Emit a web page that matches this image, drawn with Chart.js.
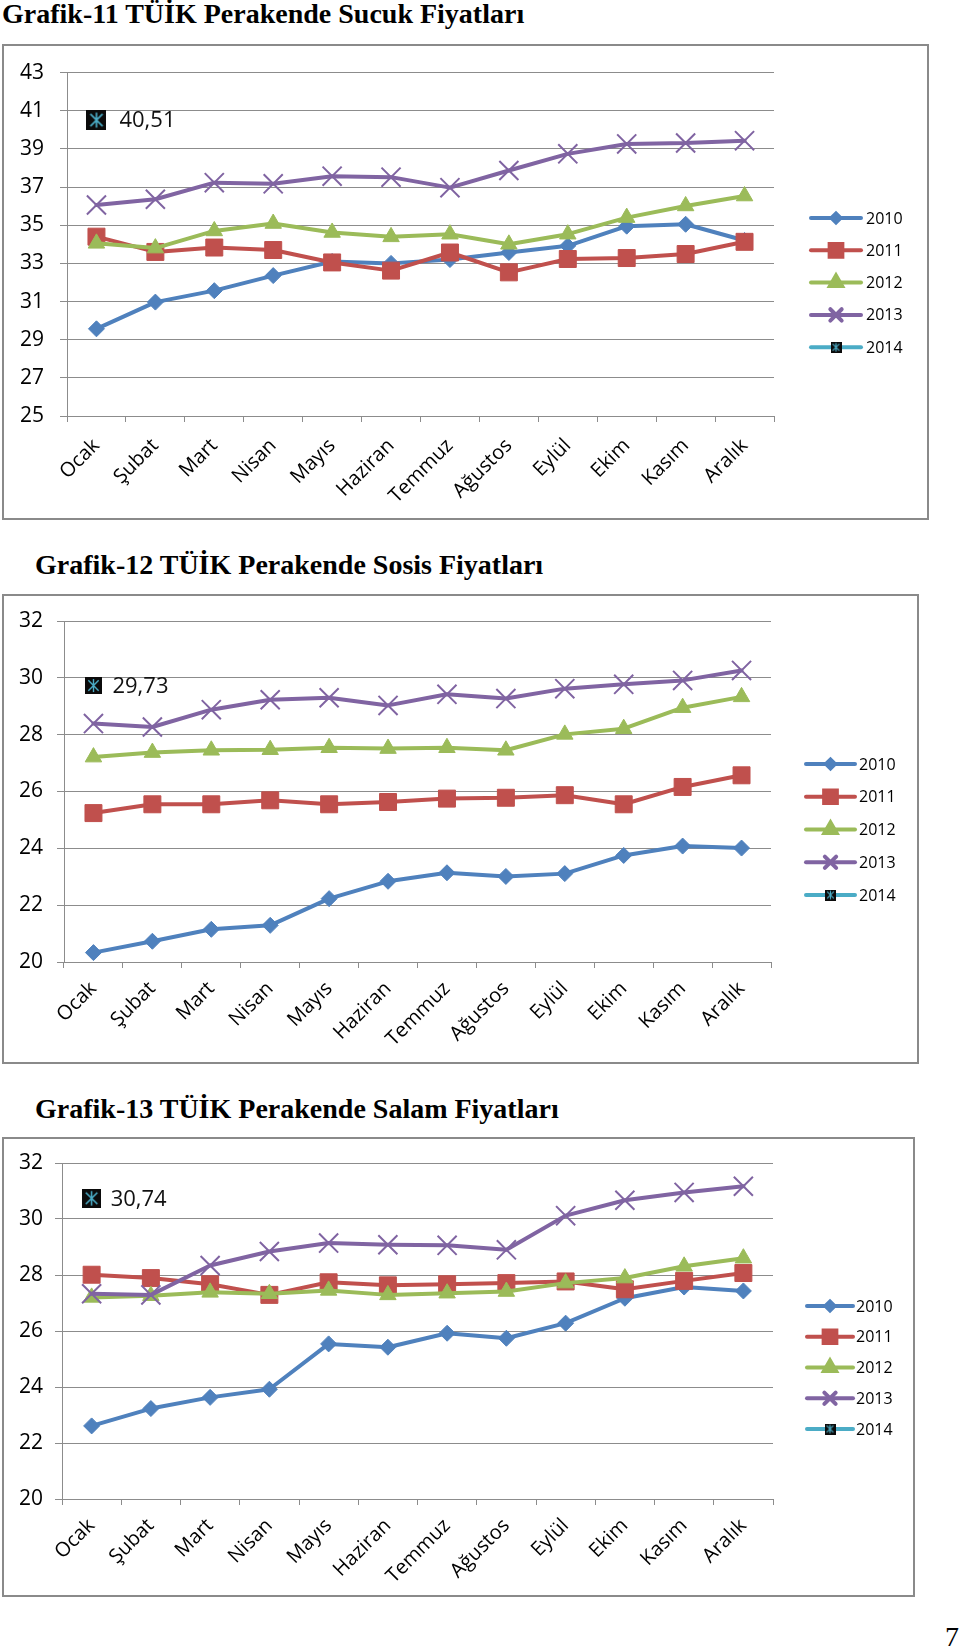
<!DOCTYPE html>
<html><head><meta charset="utf-8">
<script src="https://cdn.jsdelivr.net/npm/chart.js@4/dist/chart.umd.min.js"></script>
<style>
body{margin:0;background:#fff;width:960px;height:1651px;position:relative;overflow:hidden;}
.title{position:absolute;font-family:"Liberation Serif","Times New Roman",serif;font-weight:bold;font-size:28px;line-height:32px;color:#000;white-space:nowrap;}
.box{position:absolute;border:2px solid #8a8a8a;box-sizing:border-box;pointer-events:none;}
canvas.c{position:absolute;left:0;}
.pg{position:absolute;font-family:"Liberation Serif","Times New Roman",serif;font-size:28px;line-height:32px;color:#000;}
</style></head>
<body>
<div class="title" style="left:2px;top:-2px">Grafik-11 TÜİK Perakende Sucuk Fiyatları</div>
<canvas id="c1" class="c" style="top:44px" width="960" height="476"></canvas>
<div class="box" style="left:2px;top:44px;width:927px;height:476px"></div>

<div class="title" style="left:35px;top:549px">Grafik-12 TÜİK Perakende Sosis Fiyatları</div>
<canvas id="c2" class="c" style="top:594px" width="960" height="470"></canvas>
<div class="box" style="left:2px;top:594px;width:917px;height:470px"></div>

<div class="title" style="left:35px;top:1093px">Grafik-13 TÜİK Perakende Salam Fiyatları</div>
<canvas id="c3" class="c" style="top:1137px" width="960" height="460"></canvas>
<div class="box" style="left:2px;top:1137px;width:913px;height:460px"></div>

<div class="pg" style="left:945px;top:1621px">7</div>

<script>
// ---- data ----
const months = ['Ocak','Şubat','Mart','Nisan','Mayıs','Haziran','Temmuz','Ağustos','Eylül','Ekim','Kasım','Aralık'];
const years = ['2010','2011','2012','2013','2014'];

const sucuk2010 = [29.57, 30.97, 31.57, 32.36, 33.10, 33.00, 33.20, 33.57, 33.92, 34.95, 35.05, 34.20];
const sucuk2011 = [34.40, 33.60, 33.83, 33.70, 33.05, 32.62, 33.57, 32.53, 33.23, 33.28, 33.49, 34.13];
const sucuk2012 = [34.05, 33.80, 34.70, 35.09, 34.62, 34.39, 34.53, 34.00, 34.53, 35.40, 36.01, 36.53];
const sucuk2013 = [36.06, 36.36, 37.23, 37.17, 37.57, 37.52, 36.97, 37.87, 38.74, 39.26, 39.31, 39.43];
const sucuk2014 = [40.51];
const sucukTicks = [25, 43, 2];

const sosis2010 = [20.33, 20.73, 21.15, 21.29, 22.23, 22.84, 23.14, 23.01, 23.11, 23.75, 24.08, 24.01];
const sosis2011 = [25.24, 25.55, 25.55, 25.69, 25.55, 25.63, 25.75, 25.78, 25.87, 25.55, 26.16, 26.57];
const sosis2012 = [27.21, 27.37, 27.45, 27.47, 27.54, 27.51, 27.54, 27.45, 28.01, 28.21, 28.95, 29.33];
const sosis2013 = [28.39, 28.27, 28.88, 29.23, 29.30, 29.03, 29.42, 29.27, 29.62, 29.77, 29.91, 30.26];
const sosis2014 = [29.73];
const sosisTicks = [20, 32, 2];

const salam2010 = [22.61, 23.23, 23.63, 23.92, 25.54, 25.42, 25.92, 25.74, 26.28, 27.17, 27.57, 27.43];
const salam2011 = [28.01, 27.89, 27.67, 27.29, 27.74, 27.63, 27.67, 27.71, 27.77, 27.49, 27.79, 28.07];
const salam2012 = [27.20, 27.26, 27.38, 27.33, 27.45, 27.29, 27.35, 27.41, 27.71, 27.89, 28.31, 28.60];
const salam2013 = [27.33, 27.29, 28.34, 28.84, 29.14, 29.08, 29.06, 28.90, 30.12, 30.67, 30.95, 31.17];
const salam2014 = [30.74];
const salamTicks = [20, 32, 2];

// ---- styles ----
const COLORS = ['#4F81BD','#C0504D','#9BBB59','#8064A2','#4BACC6'];
const GRID = '#8c8c8c';
const FONT = "'Open Sans', 'DejaVu Sans', sans-serif";

function starBox(size){
  const c = document.createElement('canvas'); c.width = c.height = size;
  const g = c.getContext('2d');
  g.fillStyle = '#0b0b0b'; g.fillRect(0,0,size,size);
  g.strokeStyle = '#4BACC6'; g.lineWidth = Math.max(1.2, size/12);
  const m = size/2, r = size*0.38, d = r*0.8;
  g.beginPath();
  g.moveTo(m, m-r); g.lineTo(m, m+r);
  g.moveTo(m-d, m-d); g.lineTo(m+d, m+d);
  g.moveTo(m+d, m-d); g.lineTo(m-d, m+d);
  g.stroke();
  return c;
}

function build(id, g){
  const canvas = document.getElementById(id);
  const H = canvas.height;
  const styles = ['rectRot','rect','triangle','crossRot', starBox(g.boxSize)];
  const radii = [8, 12, 9.5, 13.5, 10];
  const pbw = [1, 1, 1, 2, 0];
  const datasets = g.series.map((vals,i)=>({
    label: years[i], data: vals,
    borderColor: COLORS[i], backgroundColor: COLORS[i],
    pointBackgroundColor: COLORS[i], pointBorderColor: COLORS[i],
    borderWidth: 4, borderCapStyle:'round', borderJoinStyle:'round',
    pointStyle: styles[i], pointRadius: radii[i], pointBorderWidth: pbw[i],
    tension: 0, fill:false, order: 4 - i
  }));
  const legendPlugin = {
    id:'xlLegend',
    afterDraw(chart){
      const ctx = chart.ctx;
      ctx.save();
      years.forEach((y,i)=>{
        const yy = g.legY - g.top + i*g.legDy;
        ctx.strokeStyle = COLORS[i]; ctx.lineWidth = 4; ctx.lineCap='round';
        ctx.beginPath(); ctx.moveTo(g.legX1, yy); ctx.lineTo(g.legX2, yy); ctx.stroke();
        const cx = (g.legX1 + g.legX2)/2;
        if (i === 4){
          const img = starBox(11);
          ctx.drawImage(img, cx-5.5, yy-5.5);
        } else {
          const lr = [4.5, 9, 7, 8][i];
          ctx.fillStyle = COLORS[i]; ctx.strokeStyle = COLORS[i];
          Chart.helpers.drawPoint(ctx, {pointStyle: ['rectRot','rect','triangle','crossRot'][i], radius: lr, rotation:0, borderWidth: 1}, cx, yy);
        }
        ctx.fillStyle = '#000'; ctx.font = '16px ' + FONT;
        ctx.textBaseline = 'middle'; ctx.textAlign = 'left';
        ctx.fillText(y, g.legTx, yy + 1);
      });
      ctx.restore();
    }
  };
  const labelPlugin = {
    id:'xlLabel',
    afterDatasetsDraw(chart){
      const meta = chart.getDatasetMeta(4);
      const pt = meta.data[0];
      if (!pt) return;
      const ctx = chart.ctx;
      ctx.save();
      ctx.fillStyle = '#111'; ctx.font = '22px ' + FONT;
      ctx.textBaseline = 'middle'; ctx.textAlign = 'left';
      ctx.fillText(String(g.series[4][0]).replace('.', ','), pt.x + g.lblDx, pt.y + 1);
      ctx.restore();
    }
  };
  new Chart(canvas.getContext('2d'), {
    type:'line',
    data:{ labels: months, datasets },
    options:{
      responsive:false, animation:false, events:[],
      layout:{ padding:{ left:0, top: g.plotTop - g.top, right: 960 - g.plotRight, bottom:0 } },
      plugins:{ legend:{display:false}, tooltip:{enabled:false} },
      scales:{
        x:{
          offset:true,
          grid:{ offset:true, drawOnChartArea:false, drawTicks:true, tickLength:6, color:GRID },
          border:{ color:GRID, width:1 },
          ticks:{ autoSkip:false, maxRotation:45, minRotation:45, color:'#000', padding: g.xpad,
                  font:{ family:FONT, size:20 } },
          afterFit(s){ s.height = H - (g.plotBottom - g.top); }
        },
        y:{
          min: g.ticks[0], max: g.ticks[1],
          ticks:{ stepSize: g.ticks[2], color:'#000', padding: g.ypad, font:{ family:FONT, size:21 } },
          grid:{ color:GRID, tickLength:7 },
          border:{ color:GRID, width:1 },
          afterFit(s){ s.width = g.plotLeft; }
        }
      }
    },
    plugins:[legendPlugin, labelPlugin]
  });
}

build('c1', { series:[sucuk2010,sucuk2011,sucuk2012,sucuk2013,sucuk2014], ticks:sucukTicks,
  top:44, plotLeft:67, plotRight:774, plotTop:71, plotBottom:416, ypad:16, xpad:12,
  legX1:811, legX2:861, legTx:866, legY:218, legDy:32.3, lblDx:23, boxSize:20 });
build('c2', { series:[sosis2010,sosis2011,sosis2012,sosis2013,sosis2014], ticks:sosisTicks,
  top:594, plotLeft:64, plotRight:771, plotTop:621, plotBottom:962, ypad:14, xpad:9,
  legX1:806, legX2:855, legTx:859, legY:764, legDy:32.75, lblDx:19, boxSize:17 });
build('c3', { series:[salam2010,salam2011,salam2012,salam2013,salam2014], ticks:salamTicks,
  top:1137, plotLeft:62, plotRight:773, plotTop:1163, plotBottom:1499, ypad:12, xpad:9,
  legX1:807, legX2:853, legTx:856, legY:1306, legDy:30.75, lblDx:19, boxSize:19 });
</script>
</body></html>
